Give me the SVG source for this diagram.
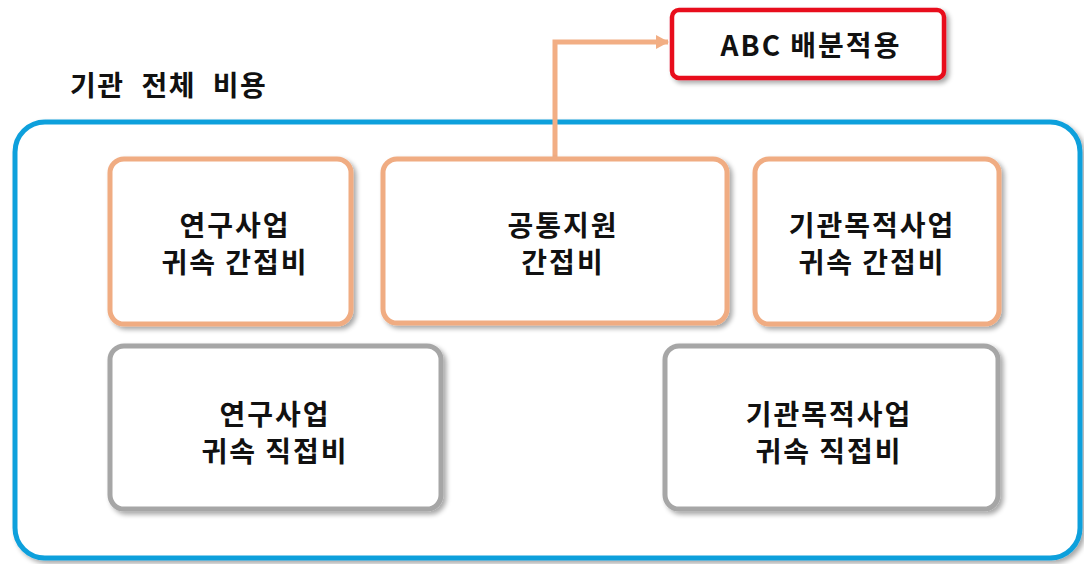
<svg xmlns="http://www.w3.org/2000/svg" width="1084" height="564" viewBox="0 0 1084 564">
<defs>
<filter id="sh" x="-10%" y="-10%" width="130%" height="130%">
<feGaussianBlur in="SourceAlpha" stdDeviation="2.5"/>
<feOffset dx="3" dy="3" result="b"/>
<feComponentTransfer><feFuncA type="linear" slope="0.35"/></feComponentTransfer>
<feMerge><feMergeNode/><feMergeNode in="SourceGraphic"/></feMerge>
</filter>
<marker id="ah" markerWidth="14" markerHeight="14" viewBox="0 0 14 14" refX="12" refY="7" orient="auto" markerUnits="userSpaceOnUse">
<path d="M0,0 L13,7 L0,14 Z" fill="#F2AE84"/>
</marker>
</defs>
<style>
text{font-family:"Noto Sans CJK KR","Noto Sans",sans-serif;font-weight:bold;fill:#111;text-anchor:middle;}
.t{font-size:28px;letter-spacing:2px;}
.or{fill:#fff;stroke:#F0AC82;stroke-width:5;}
.gr{fill:#fff;stroke:#A6A6A6;stroke-width:5;}
</style>
<rect width="1084" height="564" fill="#fff"/>
<g id="container">
<rect x="15" y="122" width="1065" height="436" rx="30" fill="#fff" stroke="#11A0DC" stroke-width="5" filter="url(#sh)"/>
<text x="70" y="96" style="text-anchor:start;font-size:28px;letter-spacing:1.5px;word-spacing:9px">기관 전체 비용</text>
</g>
<g id="connectors">
<path d="M555,158 V42 H668" fill="none" stroke="#F2AE84" stroke-width="5" marker-end="url(#ah)"/>
</g>
<g id="abc">
<rect x="672" y="10" width="272" height="68" rx="7" fill="#fff" stroke="#E8101A" stroke-width="4.5" filter="url(#sh)"/>
<text class="t" x="811" y="56">ABC 배분적용</text>
</g>
<g id="n1">
<rect class="or" x="110" y="159" width="241" height="165" rx="14" filter="url(#sh)"/>
<text class="t" x="235" y="236">연구사업</text>
<text class="t" x="235" y="273">귀속 간접비</text>
</g>
<g id="n2">
<rect class="or" x="383" y="159" width="344" height="164" rx="14" filter="url(#sh)"/>
<text class="t" x="563" y="236">공통지원</text>
<text class="t" x="563" y="273">간접비</text>
</g>
<g id="n3">
<rect class="or" x="755" y="159" width="244" height="165" rx="14" filter="url(#sh)"/>
<text class="t" x="872" y="236">기관목적사업</text>
<text class="t" x="872" y="273">귀속 간접비</text>
</g>
<g id="n4">
<rect class="gr" x="110" y="346" width="331" height="163" rx="14" filter="url(#sh)"/>
<text class="t" x="275" y="425">연구사업</text>
<text class="t" x="275" y="462">귀속 직접비</text>
</g>
<g id="n5">
<rect class="gr" x="665" y="346" width="333" height="163" rx="14" filter="url(#sh)"/>
<text class="t" x="829" y="425">기관목적사업</text>
<text class="t" x="829" y="462">귀속 직접비</text>
</g>
</svg>
